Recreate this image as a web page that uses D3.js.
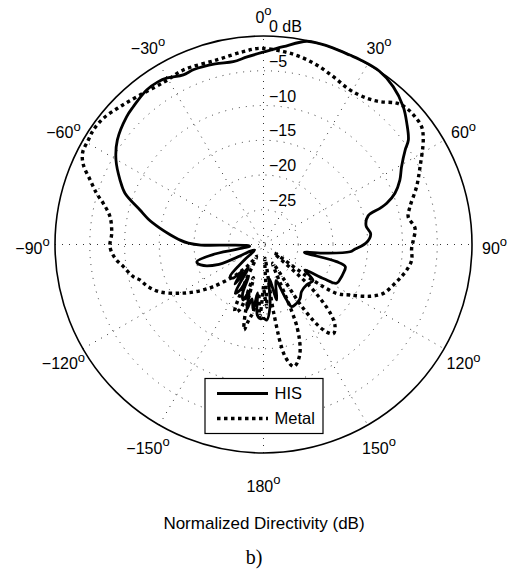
<!DOCTYPE html>
<html>
<head>
<meta charset="utf-8">
<script src="https://cdn.jsdelivr.net/npm/d3@7"></script>
<style>
  body { margin: 0; background: #fff; }
  svg { display: block; }
</style>
</head>
<body>
<script>
// Directivity patterns, angle in degrees (0 = broadside, clockwise), level in dB
const hisAngles = [-180, -178, -175, -173, -171, -168, -165.6, -163, -160, -157, -155, -152.7, -149.7, -147, -144, -141, -138, -134, -129, -122, -114, -108, -104.4, -101, -97, -93, -91, -90.5, -89, -87, -84, -81, -77.5, -74.4, -69.7, -65.8, -60.2, -54.4, -47, -43.4, -37.1, -33, -30, -25.3, -21.7, -15, -9.4, -5, 0.4, 5.7, 12, 15.6, 19.4, 24.5, 27.6, 33.7, 39.4, 45.4, 49.8, 54.2, 56.3, 60.6, 64.7, 68.7, 71.5, 72.7, 74.7, 79.8, 84.4, 89.2, 92.8, 94.8, 98, 101, 103.2, 105.2, 109.8, 114, 117.9, 119.5, 122, 126, 133, 141, 146, 150.5, 155.6, 157.5, 161, 166.6, 170.5, 174, 177.6, 180];
const hisDb = [-19.5, -19.3, -19.8, -23, -20.5, -22, -20.3, -23, -21.5, -22.3, -25, -22.6, -21.9, -26, -23, -25, -23.5, -23.3, -26.5, -28.5, -23, -20.5, -20.1, -23, -28, -27.5, -25.2, -21, -19.2, -18, -16.5, -14.9, -13, -11.55, -8.75, -7.37, -5.54, -4.14, -3.06, -2.72, -2.13, -2.1, -2.33, -3.0, -2.9, -3.1, -3.34, -2.9, -2.26, -1.4, -0.1, 0, 0, -0.05, 0, 0, -0.6, -1.76, -3.0, -4.3, -5.5, -7.2, -8.3, -9.7, -11.3, -12.4, -14.4, -15.0, -14.5, -15.25, -16.8, -17.5, -21, -24, -19.2, -17.8, -17.8, -17.9, -18.1, -20, -23, -21.2, -21.5, -21.3, -20.6, -20.3, -20.2, -21.5, -24.5, -21.8, -25, -21, -19.1, -19.5];

const metalAngles = [-180, -177, -174, -171.4, -169, -167.2, -165, -163, -160, -157, -154, -150, -146, -143, -140, -136.8, -130, -125, -120.3, -114.6, -110, -106, -103.9, -99, -95.3, -90.8, -85.8, -79.7, -75.6, -73, -69.6, -66, -63, -59.2, -56.1, -51.8, -46.2, -39.6, -31.2, -24.7, -14.2, -6, -1, 5.9, 11, 16.5, 22.6, 29.2, 35.2, 39.2, 43.3, 46.4, 49.8, 53.3, 56.8, 63.6, 69.3, 75.5, 79.1, 83.9, 88.3, 91.5, 96, 100.1, 103.9, 107.3, 112.2, 116, 120.3, 123.7, 126, 128.5, 132, 136, 139, 142, 145, 148, 151, 154, 158, 162, 166, 169, 171.5, 174, 177, 180];
const metalDb = [-24, -19.6, -23, -20.2, -19, -17.4, -20, -25, -20, -19.5, -24, -28, -27, -26, -25, -23.7, -20.6, -18.2, -16.1, -13.6, -12.3, -11.5, -10.7, -9.6, -8.55, -7.9, -8.1, -7.55, -6.2, -4.9, -3.4, -1.6, -0.8, -0.65, -0.49, -0.66, -1.37, -2.1, -2.6, -2.37, -2.6, -2.1, -1.77, -2.1, -2.47, -3.06, -3.85, -4.52, -4.24, -3.48, -2.07, -1.57, -1.48, -1.63, -2.53, -4.85, -6.45, -8.23, -8.8, -8.07, -8.43, -8.68, -8.56, -9.07, -9.77, -10.43, -11.38, -13, -15.6, -17.3, -21.5, -28, -21, -16, -14.3, -13.7, -15, -19, -26, -27, -17, -13.2, -11.9, -13.5, -20, -28, -21, -24];

// Axis ticks and labels
const angleTicks = [0, 30, 60, 90, 120, 150, 180, 210, 240, 270, 300, 330];
const angleLabels = ["0", "30", "60", "90", "120", "150", "180", "\u2212150", "\u2212120", "\u221290", "\u221260", "\u221230"];
const dbTicks = [0, -5, -10, -15, -20, -25];
const dbLabels = ["0 dB", "\u22125", "\u221210", "\u221215", "\u221220", "\u221225"];
const seriesNames = ["HIS", "Metal"];
const xTitle = "Normalized Directivity (dB)";
const panelTag = "b)";

const W = 517, H = 570;
const cx = 263.5, cy = 244.5, R = 208.5;
const sans = "'Liberation Sans', Arial, Helvetica, sans-serif";
const rad = d => d * Math.PI / 180;

const svg = d3.select("body").append("svg")
  .attr("width", W).attr("height", H)
  .attr("viewBox", `0 0 ${W} ${H}`);

const r = d3.scaleLinear().domain([-30, 0]).range([0, R]).clamp(true);

const plot = svg.append("g").attr("transform", `translate(${cx},${cy})`);

// dotted range rings
plot.append("g").selectAll("circle")
  .data(dbTicks.filter(d => d < 0))
  .join("circle")
  .attr("r", d => r(d))
  .attr("fill", "none")
  .attr("stroke", "#333")
  .attr("stroke-width", 1)
  .attr("stroke-dasharray", "1,6");

// dotted spokes through the centre every 30 degrees
plot.append("g").selectAll("line")
  .data(angleTicks.filter(a => a < 180))
  .join("line")
  .attr("x1", a => -R * Math.sin(rad(a)))
  .attr("y1", a => R * Math.cos(rad(a)))
  .attr("x2", a => R * Math.sin(rad(a)))
  .attr("y2", a => -R * Math.cos(rad(a)))
  .attr("stroke", "#333")
  .attr("stroke-width", 1)
  .attr("stroke-dasharray", "1,6");

// pattern curves
const radial = d3.lineRadial()
  .angle(d => rad(d[0]))
  .radius(d => r(d[1]))
  .curve(d3.curveCatmullRom.alpha(0.5));

const hisPts = hisAngles.map((a, i) => [a, hisDb[i]]);
const metalPts = metalAngles.map((a, i) => [a, metalDb[i]]);

plot.append("path")
  .attr("d", radial(metalPts))
  .attr("fill", "none")
  .attr("stroke", "#000")
  .attr("stroke-width", 3.4)
  .attr("stroke-dasharray", "3.5,3.5");

plot.append("path")
  .attr("d", radial(hisPts))
  .attr("fill", "none")
  .attr("stroke", "#000")
  .attr("stroke-width", 2.8)
  .attr("stroke-linejoin", "round");

// outer 0 dB circle
plot.append("circle")
  .attr("r", r(0))
  .attr("fill", "none")
  .attr("stroke", "#000")
  .attr("stroke-width", 1.6);

// level labels beside the upper spoke
plot.append("g").selectAll("text")
  .data(dbTicks)
  .join("text")
  .attr("x", 5.5)
  .attr("y", d => -r(d) - 4)
  .attr("font-family", sans)
  .attr("font-size", 16)
  .attr("fill", "#000")
  .text((d, i) => dbLabels[i]);

// angle labels with superscript degree mark
const labR = 231, labDy = 3.5;
const angG = plot.append("g");
angleTicks.forEach((a, i) => {
  const x = labR * Math.sin(rad(a));
  let y = -labR * Math.cos(rad(a)) + labDy + 5.7;
  if (a === 180) y += 7;
  const t = angG.append("text")
    .attr("x", x).attr("y", y)
    .attr("text-anchor", "middle")
    .attr("font-family", sans)
    .attr("font-size", 16)
    .attr("fill", "#000");
  t.append("tspan").text(angleLabels[i]);
  t.append("tspan").attr("font-size", 13).attr("dy", -7.5).text("o");
});

// legend
const leg = svg.append("g");
leg.append("rect")
  .attr("x", 205).attr("y", 378.5)
  .attr("width", 118).attr("height", 55)
  .attr("fill", "#fff")
  .attr("stroke", "#000")
  .attr("stroke-width", 1.2);
const legStyles = [
  { w: 2.8, dash: null },
  { w: 3.4, dash: "3.5,3.5" }
];
seriesNames.forEach((name, i) => {
  const y = 393.5 + i * 25;
  const ln = leg.append("line")
    .attr("x1", 217).attr("x2", 268)
    .attr("y1", y).attr("y2", y)
    .attr("stroke", "#000")
    .attr("stroke-width", legStyles[i].w);
  if (legStyles[i].dash) ln.attr("stroke-dasharray", legStyles[i].dash);
  leg.append("text")
    .attr("x", 274.5).attr("y", y + 5.8)
    .attr("font-family", sans)
    .attr("font-size", 16.5)
    .attr("fill", "#000")
    .text(name);
});

// axis title and panel tag
svg.append("text")
  .attr("x", 264).attr("y", 528.5)
  .attr("text-anchor", "middle")
  .attr("font-family", sans)
  .attr("font-size", 17)
  .attr("fill", "#000")
  .text(xTitle);

svg.append("text")
  .attr("x", 254).attr("y", 564)
  .attr("text-anchor", "middle")
  .attr("font-family", "'Liberation Serif', 'Times New Roman', serif")
  .attr("font-size", 20)
  .attr("fill", "#000")
  .text(panelTag);
</script>
</body>
</html>
